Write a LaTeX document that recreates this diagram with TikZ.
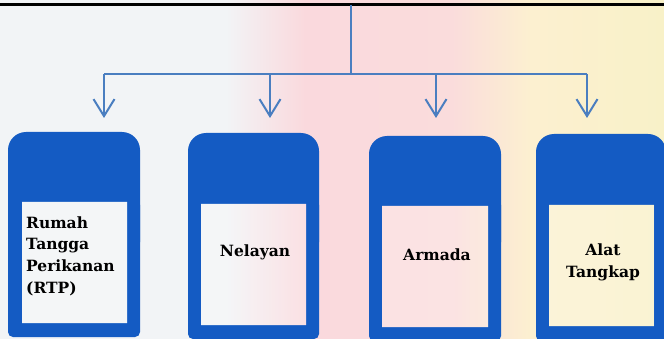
\documentclass[tikz,border=0pt]{standalone}
\usepackage{fontspec}
\usepackage{tikz}
\usetikzlibrary{shapes,arrows.meta}
\newfontfamily\boxfont{DejaVu Serif}

\definecolor{boxblue}{HTML}{145BC3}
\definecolor{lineblue}{HTML}{4A7EC0}
\definecolor{bgA}{HTML}{F2F4F6}
\definecolor{bgB}{HTML}{FAD9DD}
\definecolor{bgC}{HTML}{FADCDC}
\definecolor{bgD}{HTML}{FCF0D0}
\definecolor{bgE}{HTML}{F8F1C8}
\pgfdeclarehorizontalshading{bgshade}{100bp}{color(0bp)=(bgA); color(25bp)=(bgA); color(42bp)=(bgA); color(48bp)=(bgB); color(59bp)=(bgC); color(65bp)=(bgD); color(75bp)=(bgE); color(100bp)=(bgE)}

\tikzset{
  conn/.style={draw=lineblue, line width=2pt},
  arr/.style={conn, -{Straight Barb[length=17pt,width=21pt]}},
  lbl/.style={font=\boxfont\fontsize{15.5}{21.7}\selectfont\bfseries, text=black, inner sep=0pt}
}

\begin{document}
\begin{tikzpicture}[x=1pt,y=-1pt]
\useasboundingbox (0,0) rectangle (664,339);
\shade[shading=bgshade] (0,0) rectangle (664,339);
\draw[line width=3pt] (0,4.5) -- (664,4.5);

% blue frames
\fill[boxblue, rounded corners=18] (8,132) rectangle (140,260);
\fill[boxblue, rounded corners=5] (8,200) rectangle (140,337);
\fill[boxblue, rounded corners=18] (188,133) rectangle (319,260);
\fill[boxblue, rounded corners=5] (188,200) rectangle (319,339);
\fill[boxblue, rounded corners=18] (369,136) rectangle (501,260);
\fill[boxblue, rounded corners=5] (369,200) rectangle (501,341);
\fill[boxblue, rounded corners=18] (536,134) rectangle (666,260);
\fill[boxblue, rounded corners=5] (536,200) rectangle (666,341);

% panes show the background through
\begin{scope}
\clip (22,202) rectangle (127,323)
      (201,204) rectangle (306,325)
      (382,206) rectangle (488,327)
      (549,205) rectangle (654,326);
\shade[shading=bgshade] (0,0) rectangle (664,339);
\fill[white, fill opacity=0.2] (0,0) rectangle (664,339);
\end{scope}

\node[lbl, anchor=west, align=left] (rtp) at (26,256) {Rumah\\Tangga\\Perikanan\\(RTP)};
\node[lbl] (nelayan) at (255,252) {Nelayan};
\node[lbl] (armada) at (437,255) {Armada};
\node[lbl, align=center] (alat) at (603,262) {Alat\\Tangkap};

% connectors
\coordinate (top) at (351,5);
\coordinate (hub) at (351,74);
\coordinate (b1) at (104,74);
\coordinate (b2) at (270,74);
\coordinate (b3) at (436,74);
\coordinate (b4) at (587,74);
\coordinate (e1) at (104,118);
\coordinate (e2) at (270,118);
\coordinate (e3) at (436,118);
\coordinate (e4) at (587,118);
\draw[conn] (top) -- (hub);
\draw[conn] (b1) -- (b4);
\foreach \i in {1,2,3,4}
  \draw[arr] (b\i) -- (e\i);
\end{tikzpicture}
\end{document}
